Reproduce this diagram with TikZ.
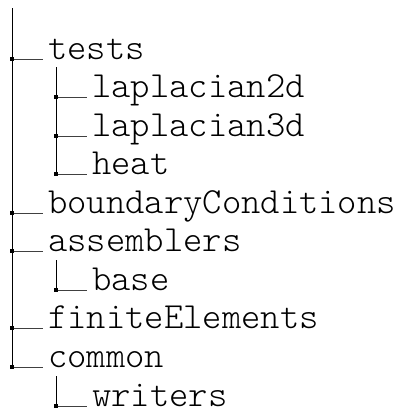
\documentclass[tikz,border=0pt]{standalone}
\usepackage{fontspec}
\setmonofont{Latin Modern Mono Light}
\begin{document}
\begin{tikzpicture}[x=1pt,y=-1pt,
  tline/.style={line width=0.9pt,black},
  hline/.style={line width=0.9pt,black!75},
  jbox/.style={fill=black,minimum size=4.5pt,inner sep=0pt,draw=none,rectangle},
  lbl/.style={anchor=base west,inner ysep=0pt,inner xsep=5pt,font=\ttfamily\fontsize{36.8}{37}\selectfont}]
\useasboundingbox (0,0) rectangle (395,410);
% main trunk
\coordinate (top) at (12,8);
\node[lbl] (tests) at (43,59) {tests};
\node[lbl] (bc) at (43,213) {boundaryConditions};
\node[lbl] (asm) at (43,251) {assemblers};
\node[lbl] (fe) at (43,328) {finiteElements};
\node[lbl] (com) at (43,367) {common};
\coordinate (j1) at (12,59);
\coordinate (j2) at (12,213);
\coordinate (j3) at (12,251);
\coordinate (j4) at (12,328);
\coordinate (j5) at (12,367);
\draw[tline] (top) -- (j5);
\foreach \j/\n in {j1/tests,j2/bc,j3/asm,j4/fe,j5/com}{
  \draw[hline] (\j) -- (\j -| \n.west);
}
% tests children
\coordinate (ttop) at (56,67);
\node[lbl] (l2) at (87,97) {laplacian2d};
\node[lbl] (l3) at (87,136) {laplacian3d};
\node[lbl] (heat) at (87,174) {heat};
\coordinate (k1) at (56,97);
\coordinate (k2) at (56,136);
\coordinate (k3) at (56,174);
\draw[tline] (ttop) -- (k3);
\foreach \j/\n in {k1/l2,k2/l3,k3/heat}{
  \draw[hline] (\j) -- (\j -| \n.west);
}
% assemblers child
\coordinate (atop) at (56,260);
\node[lbl] (base) at (87,290) {base};
\coordinate (k4) at (56,290);
\draw[tline] (atop) -- (k4);
\draw[hline] (k4) -- (k4 -| base.west);
% common child
\coordinate (ctop) at (56,376);
\node[lbl] (wr) at (87,406) {writers};
\coordinate (k5) at (56,406);
\draw[tline] (ctop) -- (k5);
\draw[hline] (k5) -- (k5 -| wr.west);
% junction squares
\foreach \j in {j1,j2,j3,j4,j5,k1,k2,k3,k4,k5}{
  \node[jbox] at (\j) {};
}
\end{tikzpicture}
\end{document}
